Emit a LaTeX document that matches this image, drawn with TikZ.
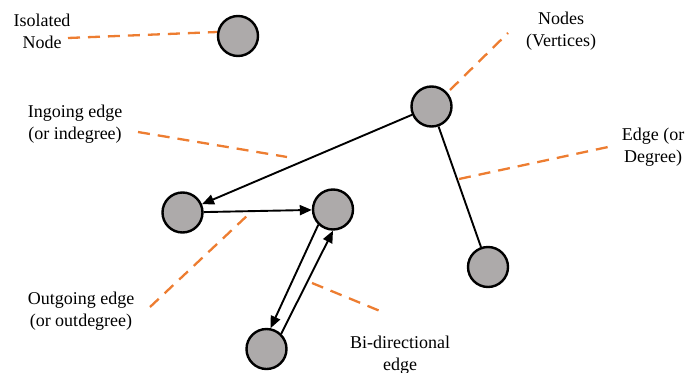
\documentclass[tikz,border=0pt]{standalone}
\usepackage{fontspec}
\setmainfont{Liberation Serif}
\usetikzlibrary{arrows.meta}
\definecolor{vertexgray}{RGB}{173,170,170}
\definecolor{calloutorange}{RGB}{237,125,49}
\begin{document}
\begin{tikzpicture}[x=1pt,y=-1pt,
  vertex/.style={circle,draw=black,line width=2.4pt,fill=vertexgray,minimum size=40pt,inner sep=0pt},
  link/.style={draw=black,line width=1.9pt},
  arc/.style={link,-{Triangle[length=12pt,width=10pt]}},
  callout/.style={draw=calloutorange,line width=2.3pt,dash pattern=on 12pt off 8pt},
  caption/.style={align=center,font=\fontsize{18}{22}\selectfont,inner sep=0pt}]
\useasboundingbox (0,0) rectangle (700,372);

% vertices
\node[vertex] (iso) at (238,36) {};
\node[vertex] (a) at (431.5,106.5) {};
\node[vertex] (b) at (182.5,212.5) {};
\node[vertex] (c) at (333,209.5) {};
\node[vertex] (d) at (488,267) {};
\node[vertex] (e) at (266.5,349) {};

% edges
\draw[arc] (a) -- (b);
\draw[arc] (b) -- (c);
\draw[link] (a) -- (d);
\draw[arc] (c.226) -- (e.79);
\draw[arc] (e.46) -- (c.270);

% captions
\node[caption] (tiso) at (42,31) {Isolated\\Node};
\node[caption] (tnodes) at (561,31) {Nodes\\(Vertices)};
\node[caption] (tdeg) at (653,147) {Edge (or\\Degree)};
\node[caption] (tin) at (75,124) {Ingoing edge\\(or indegree)};
\node[caption] (tout) at (81,311) {Outgoing edge\\(or outdegree)};
\node[caption] (tbi) at (400,355) {Bi-directional\\edge};

% callout ends
\coordinate (iso0) at (68,38);
\coordinate (iso1) at (217,32);
\coordinate (nd0) at (450,90);
\coordinate (nd1) at (508,33);
\coordinate (dg0) at (459,179);
\coordinate (dg1) at (608,147);
\coordinate (in0) at (138,132);
\coordinate (in1) at (287,157);
\coordinate (out0) at (150,307);
\coordinate (out1) at (250,213);
\coordinate (bi0) at (312,283);
\coordinate (bi1) at (380,311);

% callouts
\draw[callout] (iso0) -- (iso1);
\draw[callout] (nd0) -- (nd1);
\draw[callout] (dg0) -- (dg1);
\draw[callout] (in0) -- (in1);
\draw[callout] (out0) -- (out1);
\draw[callout] (bi0) -- (bi1);
\end{tikzpicture}
\end{document}
